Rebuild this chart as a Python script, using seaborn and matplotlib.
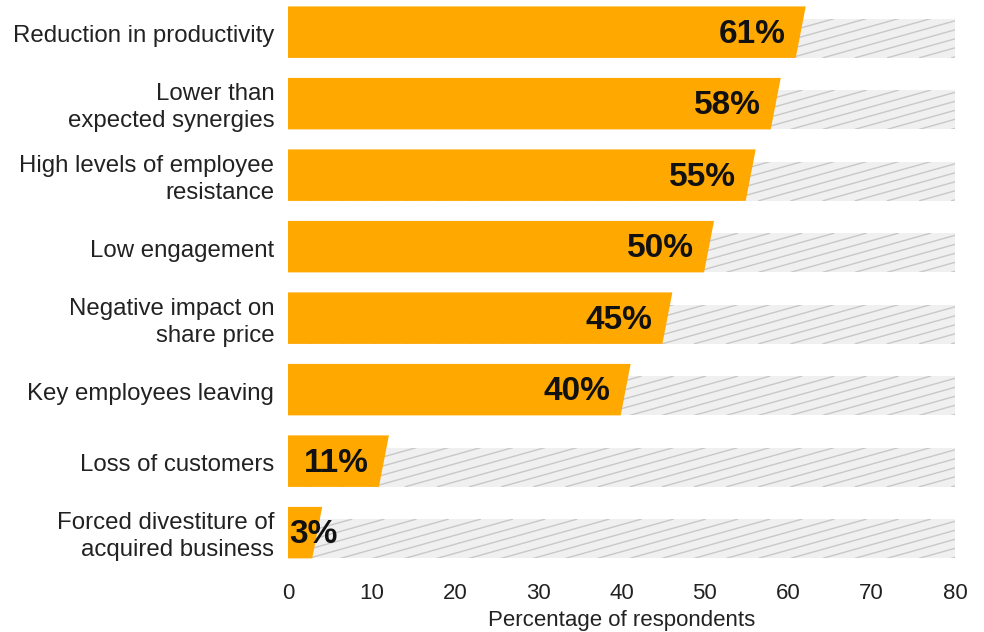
import numpy as np
import pandas as pd
import matplotlib
matplotlib.use("Agg")
import matplotlib.pyplot as plt
from matplotlib.patches import Polygon
import seaborn as sns

# Survey results
categories = [
    "Reduction in productivity",
    "Lower than\nexpected synergies",
    "High levels of employee\nresistance",
    "Low engagement",
    "Negative impact on\nshare price",
    "Key employees leaving",
    "Loss of customers",
    "Forced divestiture of\nacquired business",
]
values = [61, 58, 55, 50, 45, 40, 11, 3]
scale_max = 80
x_ticks = [0, 10, 20, 30, 40, 50, 60, 70, 80]
x_label = "Percentage of respondents"

ORANGE = "#FFA800"
TRACK = "#F0F0F0"
HATCH = "#C8C8C8"

df = pd.DataFrame({"category": categories, "value": values,
                   "full": [scale_max] * len(values)})

sns.set_theme(style="white")
plt.rcParams["font.family"] = ["Liberation Sans", "DejaVu Sans"]

fig = plt.figure(figsize=(9.84, 6.32), dpi=100)
ax = fig.add_axes([0.2927, 0.095, 0.9705 - 0.2927, 0.905])

BAR_H = 0.72
TRACK_H = 0.55

# background tracks (full scale), then the value bars
sns.barplot(data=df, y="category", x="full", color=TRACK, width=BAR_H,
            saturation=1, ax=ax, orient="h")
n = len(values)
track_patches = list(ax.patches[:n])
sns.barplot(data=df, y="category", x="value", color=ORANGE, width=BAR_H,
            saturation=1, ax=ax, orient="h")
value_patches = list(ax.patches[n:])

ax.set_xlim(0, scale_max)
ax.set_ylim(n - 1 + 0.55, -0.45)

# tracks are shorter than the value bars and sit on the same baseline
for p in track_patches:
    p.set_y(p.get_y() + (BAR_H - TRACK_H))
    p.set_height(TRACK_H)
    p.set_edgecolor("none")
    p.set_zorder(1)

fig.canvas.draw()
px_per_x = ax.get_window_extent().width / scale_max
px_per_y = ax.get_window_extent().height / n

# thin diagonal hatch on the tracks, clipped to each track
slope_px = 0.28           # rise over run in pixels
spacing_px = 9.0 / slope_px
for p in track_patches:
    x0, y0 = p.get_x(), p.get_y()
    w, h = p.get_width(), p.get_height()
    run_x = (h * px_per_y / slope_px) / px_per_x
    step = spacing_px / px_per_x
    for xs in np.arange(x0 - run_x, x0 + w + step, step):
        ln, = ax.plot([xs, xs + run_x], [y0 + h, y0], color=HATCH,
                      lw=1.0, zorder=1.5, solid_capstyle="butt")
        ln.set_clip_path(p)

# value bars with a slanted right end
slant = 1.2
for p, v in zip(value_patches, values):
    x0, y0 = p.get_x(), p.get_y()
    w, h = p.get_width(), p.get_height()
    top, bot = y0, y0 + h
    poly = Polygon([(x0, top), (w + slant - 0.1, top), (w - 0.1, bot), (x0, bot)],
                   closed=True, facecolor=ORANGE, edgecolor="none", zorder=2)
    p.set_visible(False)
    ax.add_patch(poly)

# value labels
for i, v in enumerate(values):
    if v < 6:
        ax.text(0.2, i + 0.03, f"{v}%", ha="left", va="center",
                fontsize=24, fontweight="bold", color="#111111", zorder=3)
    else:
        ax.text(v - 1.3, i + 0.03, f"{v}%", ha="right", va="center",
                fontsize=24, fontweight="bold", color="#111111", zorder=3)

ax.set_xticks(x_ticks)
ax.set_xticklabels([str(t) for t in x_ticks], fontsize=16, color="#222222")
ax.set_xlabel(x_label, fontsize=16, color="#222222", labelpad=4)
ax.set_ylabel("")
ax.set_yticks(range(n))
ax.set_yticklabels(categories, fontsize=17.3, color="#222222", linespacing=1.3,
                   va="center")
for t in ax.get_yticklabels():
    t.set_y(t.get_position()[1])
ax.tick_params(axis="both", length=0)
ax.tick_params(axis="x", pad=8)
ax.tick_params(axis="y", pad=10)
for s in ax.spines.values():
    s.set_visible(False)
ax.grid(False)

# nudge category labels slightly down to sit on the bar centre
import matplotlib.transforms as mtransforms
offset = mtransforms.ScaledTranslation(0, -3 / 72, fig.dpi_scale_trans)
for t in ax.get_yticklabels():
    t.set_transform(t.get_transform() + offset)

fig.savefig("out.png", dpi=100)
